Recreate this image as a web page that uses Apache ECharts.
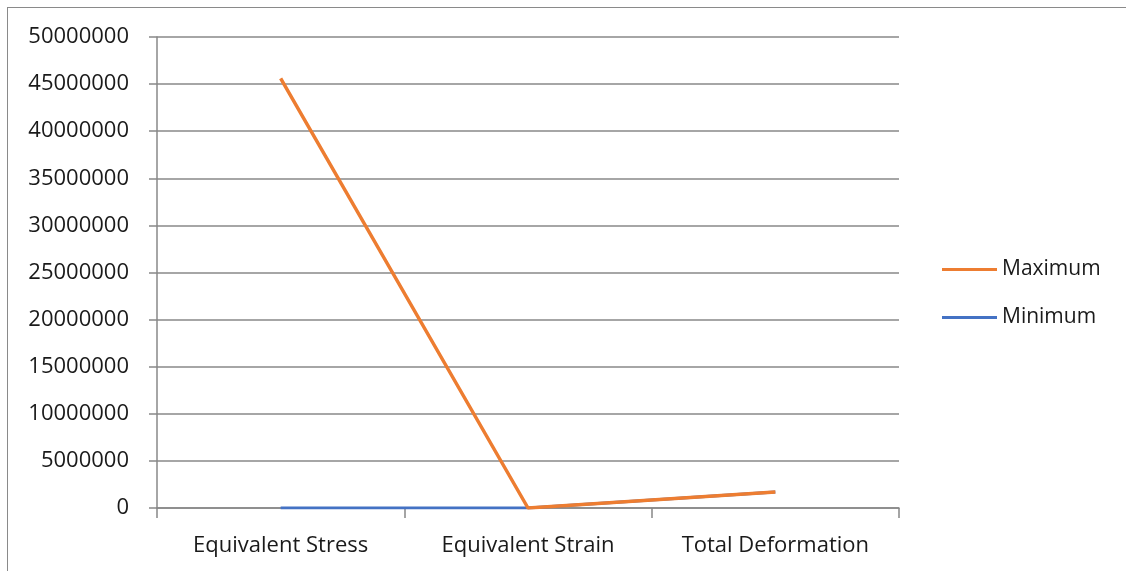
<!DOCTYPE html>
<html><head><meta charset="utf-8">
<script src="https://cdn.jsdelivr.net/npm/echarts@6/dist/echarts.min.js"></script>
<style>
html,body{margin:0;padding:0;background:#fff;}
#frame{position:absolute;left:7px;top:7px;width:1200px;height:700px;border:1.5px solid #8a8a8a;}
#c{position:absolute;left:0;top:0;width:1126px;height:571px;}
</style></head>
<body><div id="frame"></div><div id="c"></div>
<script>
const categories = ["Equivalent Stress", "Equivalent Strain", "Total Deformation"];
const maximumValues = [45600000, 0, 1700000];
const minimumValues = [0, 0, 1700000];
const yTicks = [0, 5000000, 10000000, 15000000, 20000000, 25000000, 30000000, 35000000, 40000000, 45000000, 50000000];

const font = "Open Sans";
const chart = echarts.init(document.getElementById('c'));
chart.setOption({
  animation: false,
  grid: {left: 157, top: 37, width: 742, height: 471, containLabel: false},
  legend: {
    orient: 'vertical', left: 937, top: 254, itemGap: 27,
    itemWidth: 55, itemHeight: 3, icon: 'rect',
    data: ['Maximum', 'Minimum'],
    textStyle: {fontFamily: font, fontSize: 21, color: '#1a1a1a', padding: [0,0,0,0]}
  },
  xAxis: {
    type: 'category', data: categories, boundaryGap: true,
    axisLine: {lineStyle: {color: '#888', width: 1.5}},
    axisTick: {show: true, length: 10, lineStyle: {color: '#888', width: 1.5}},
    axisLabel: {fontFamily: font, fontSize: 22, color: '#1a1a1a', margin: 27},
    splitLine: {show: false}
  },
  yAxis: {
    type: 'value', min: yTicks[0], max: yTicks[yTicks.length-1], interval: 5000000,
    axisLine: {show: true, lineStyle: {color: '#888', width: 1.5}},
    axisTick: {show: true, length: 8, lineStyle: {color: '#888', width: 1.5}},
    axisLabel: {fontFamily: font, fontSize: 22, color: '#1a1a1a', margin: 28,
      formatter: function (v) { return String(v); }},
    splitLine: {lineStyle: {color: '#888', width: 1.5}}
  },
  series: [
    {name: 'Minimum', type: 'line', data: minimumValues, symbol: 'none',
     lineStyle: {color: '#4472c4', width: 3}, itemStyle: {color: '#4472c4'}},
    {name: 'Maximum', type: 'line', data: maximumValues, symbol: 'none',
     lineStyle: {color: '#ed7d31', width: 3.5}, itemStyle: {color: '#ed7d31'}}
  ]
});
</script></body></html>
